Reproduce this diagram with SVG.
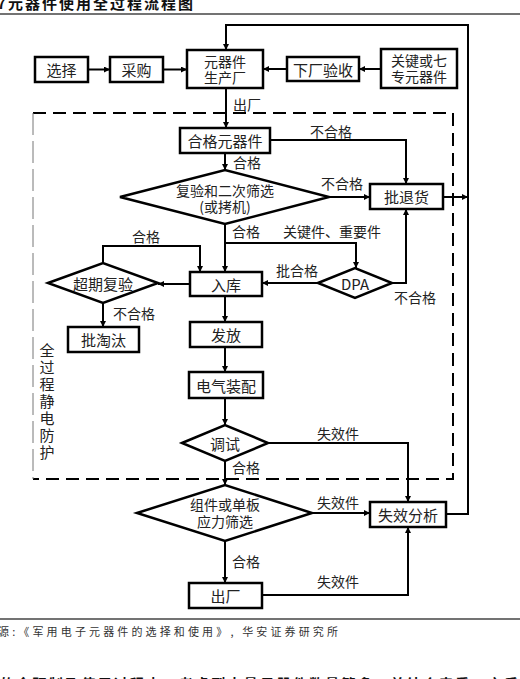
<svg xmlns="http://www.w3.org/2000/svg" width="520" height="679" viewBox="0 0 520 679">
<defs>
<marker id="a" viewBox="0 0 10 10" refX="10" refY="5" markerWidth="9" markerHeight="6" orient="auto" markerUnits="userSpaceOnUse"><path d="M0,0 L10,5 L0,10 z" fill="#000"/></marker>
</defs>
<style>
.box{fill:#fff;stroke:#000;stroke-width:2.5}
.ln{fill:none;stroke:#000;stroke-width:2}
.ar{fill:none;stroke:#000;stroke-width:2;marker-end:url(#a)}
.t{font-family:"Noto Sans CJK SC",sans-serif;font-size:15px;fill:#222;text-anchor:middle;dominant-baseline:central}
.t2{font-family:"Noto Sans CJK SC",sans-serif;font-size:14px;fill:#222;text-anchor:middle}
.lb{font-family:"Noto Sans CJK SC",sans-serif;font-size:14px;fill:#222;text-anchor:middle;dominant-baseline:central}
.dash{fill:none;stroke:#000;stroke-width:2;stroke-dasharray:13 7}
</style>
<rect width="520" height="679" fill="#fff"/>
<g id="header">
<text x="-3" y="9" font-family="Noto Sans CJK SC,sans-serif" font-size="15" font-weight="bold" fill="#111">7<tspan x="8" textLength="185" lengthAdjust="spacing">元器件使用全过程流程图</tspan></text>
<line x1="0" y1="14" x2="520" y2="14" stroke="#444" stroke-width="1.5"/>
</g>
<g id="esd-zone">
<path class="dash" d="M33,113 H453 V479 H33"/>
<line x1="33" y1="113" x2="33" y2="479" stroke="#777" stroke-width="1" stroke-dasharray="22 6"/>
<text x="47" y="343" writing-mode="tb" letter-spacing="2" font-family="Noto Sans CJK SC,sans-serif" font-size="15" fill="#222">全过程静电防护</text>
</g>
<g id="connectors">
<line class="ar" x1="88" y1="69.5" x2="110" y2="69.5"/>
<line class="ar" x1="163" y1="69.5" x2="187" y2="69.5"/>
<line class="ar" x1="381" y1="69" x2="359" y2="69"/>
<line class="ar" x1="287" y1="69" x2="263" y2="69"/>
<path class="ar" d="M446,514 H468 V25 H226 V50"/>
<line class="ar" x1="226" y1="88" x2="226" y2="128"/>
<text class="lb" x="247" y="104">出厂</text>
<line class="ar" x1="225" y1="153" x2="225" y2="170"/>
<text class="lb" x="247" y="162">合格</text>
<path class="ar" d="M270,140 H406 V184"/>
<text class="lb" x="331" y="131">不合格</text>
<line class="ar" x1="329" y1="197" x2="370" y2="197"/>
<text class="lb" x="342" y="183">不合格</text>
<line class="ar" x1="443" y1="197" x2="468" y2="197"/>
<line class="ar" x1="225" y1="224" x2="225" y2="272"/>
<text class="lb" x="246" y="231">合格</text>
<path class="ar" d="M225,243 H356 V268"/>
<text class="lb" x="332" y="231">关键件、重要件</text>
<line class="ar" x1="318" y1="283" x2="262" y2="283"/>
<text class="lb" x="297" y="270">批合格</text>
<path class="ar" d="M392,283 H406 V209"/>
<text class="lb" x="415" y="297">不合格</text>
<line class="ar" x1="190" y1="284" x2="158" y2="284"/>
<path class="ar" d="M103,263 V246 H200 V272"/>
<text class="lb" x="146" y="236">合格</text>
<line class="ar" x1="103" y1="303" x2="103" y2="327"/>
<text class="lb" x="134" y="313">不合格</text>
<line class="ar" x1="225" y1="296" x2="225" y2="322"/>
<line class="ar" x1="225" y1="347" x2="225" y2="372"/>
<line class="ar" x1="225" y1="398" x2="225" y2="425"/>
<path class="ar" d="M268,443 H408 V502"/>
<text class="lb" x="338" y="433">失效件</text>
<line class="ar" x1="225" y1="461" x2="225" y2="485"/>
<text class="lb" x="246" y="467">合格</text>
<line class="ar" x1="312" y1="513" x2="370" y2="513"/>
<text class="lb" x="338" y="502">失效件</text>
<line class="ar" x1="225" y1="541" x2="225" y2="583"/>
<text class="lb" x="246" y="561">合格</text>
<path class="ar" d="M262,595 H408 V527"/>
<text class="lb" x="338" y="581">失效件</text>
</g>
<g id="n-select"><rect class="box" x="35" y="57" width="53" height="25"/><text class="t" x="61.5" y="69.5">选择</text></g>
<g id="n-buy"><rect class="box" x="110" y="57" width="53" height="25"/><text class="t" x="136.5" y="69.5">采购</text></g>
<g id="n-factory"><rect class="box" x="187" y="50" width="76" height="38" stroke-width="3"/><text class="t2" x="225" y="67">元器件<tspan x="225" dy="16">生产厂</tspan></text></g>
<g id="n-accept"><rect class="box" x="287" y="57" width="72" height="24"/><text class="t" x="323" y="69">下厂验收</text></g>
<g id="n-key"><rect class="box" x="381" y="49" width="76" height="39" stroke-width="3"/><text class="t2" x="419" y="66">关键或七<tspan x="419" dy="16">专元器件</tspan></text></g>
<g id="n-qualified"><rect class="box" x="180" y="128" width="90" height="25"/><text class="t" x="225" y="140.5">合格元器件</text></g>
<g id="n-screen"><polygon class="box" points="120,197 225,170 329,197 225,224"/><text class="t2" x="225" y="196">复验和二次筛选<tspan x="225" dy="16">(或拷机)</tspan></text></g>
<g id="n-return"><rect class="box" x="370" y="184" width="73" height="25"/><text class="t" x="406.5" y="196.5">批退货</text></g>
<g id="n-dpa"><polygon class="box" points="318,283 355,268 392,283 355,298"/><text class="t" x="355" y="283" font-family="Liberation Serif,serif">DPA</text></g>
<g id="n-store"><rect class="box" x="190" y="272" width="72" height="24"/><text class="t" x="226" y="284">入库</text></g>
<g id="n-overdue"><polygon class="box" points="48,283 103,263 158,283 103,303"/><text class="t" x="103" y="283">超期复验</text></g>
<g id="n-scrap"><rect class="box" x="68" y="327" width="71" height="25"/><text class="t" x="103.5" y="339.5">批淘汰</text></g>
<g id="n-issue"><rect class="box" x="190" y="322" width="72" height="25"/><text class="t" x="226" y="334.5">发放</text></g>
<g id="n-assembly"><rect class="box" x="189" y="372" width="74" height="26"/><text class="t" x="226" y="385">电气装配</text></g>
<g id="n-debug"><polygon class="box" points="182,443 225,425 268,443 225,461"/><text class="t" x="225" y="443">调试</text></g>
<g id="n-stress"><polygon class="box" points="137,513 225,485 312,513 225,541"/><text class="t2" x="225" y="510">组件或单板<tspan x="225" dy="17">应力筛选</tspan></text></g>
<g id="n-analysis"><rect class="box" x="370" y="502" width="76" height="25"/><text class="t" x="408" y="514.5">失效分析</text></g>
<g id="n-ship"><rect class="box" x="189" y="583" width="73" height="25"/><text class="t" x="225.5" y="595.5">出厂</text></g>
<g id="footer">
<line x1="0" y1="619" x2="520" y2="619" stroke="#444" stroke-width="1.5"/>
<text x="-2" y="636" font-family="Noto Sans CJK SC,sans-serif" font-size="11" fill="#333" textLength="340" lengthAdjust="spacing">源:《军用电子元器件的选择和使用》, 华安证券研究所</text>
<text x="0" y="689" font-family="Noto Sans CJK SC,sans-serif" font-size="14" font-weight="bold" fill="#111" textLength="518" lengthAdjust="spacing">的全研制及使用过程中，考虑到大量元器件数量繁多，并结合来看，之后</text>
</g>
</svg>
